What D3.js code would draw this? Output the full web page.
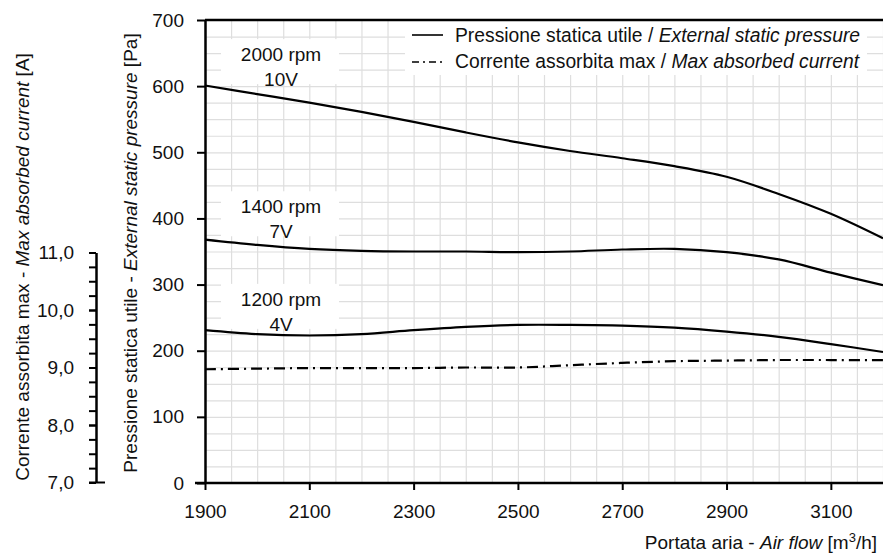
<!DOCTYPE html>
<html><head><meta charset="utf-8">
<script src="https://cdn.jsdelivr.net/npm/d3@7"></script>
<style>
body{margin:0;background:#fff;}
text{font-family:"Liberation Sans",Arial,sans-serif;fill:#111;}
</style></head>
<body><svg id="c" width="883" height="553"></svg>
<script>
const airflow = [1900,2000,2100,2200,2300,2400,2500,2600,2700,2800,2900,3000,3100,3200];
const p2000 = [601,588,575,561,546,530,515,502,491,479,463,437,407,370];
const p1400 = [368,360,354,351,350,350,349,350,353,354,349,338,318,299];
const p1200 = [231,225,223,225,231,236,239,239,238,235,229,221,210,198];
const currentMax = [8.97,8.98,8.99,8.99,8.99,9.00,9.00,9.04,9.08,9.11,9.12,9.13,9.13,9.13];
const xTicks = [1900,2100,2300,2500,2700,2900,3100];
const pTicks = [0,100,200,300,400,500,600,700];
const cTicks = [7,8,9,10,11];
const curveLabels = [
  {rpm:"2000 rpm", v:"10V", x:2040, p:600},
  {rpm:"1400 rpm", v:"7V", x:2040, p:370},
  {rpm:"1200 rpm", v:"4V", x:2040, p:230}
];

const FS = 19;
const svg = d3.select("#c");
const x = d3.scaleLinear().domain([1900,3200]).range([205,883]);
const yP = d3.scaleLinear().domain([0,700]).range([483,20]);
const yC = d3.scaleLinear().domain([7,11]).range([482.5,252.5]);

// grid
const gridX = d3.range(1900,3201,50);
const gridY = d3.range(0,701,25);
svg.append("g").attr("transform","translate(0,483)")
  .call(d3.axisBottom(x).tickValues(gridX).tickSize(-463).tickFormat(""))
  .call(g=>{g.select(".domain").remove();g.selectAll("line").attr("stroke","#dedede").attr("stroke-width",1.2);});
svg.append("g").attr("transform","translate(205,0)")
  .call(d3.axisLeft(yP).tickValues(gridY).tickSize(-678).tickFormat(""))
  .call(g=>{g.select(".domain").remove();g.selectAll("line").attr("stroke","#dedede").attr("stroke-width",1.2);});

// label boxes
curveLabels.forEach(l=>{
  const cx = x(l.x), by = yP(l.p) - 25;
  svg.append("rect").attr("x",cx-57).attr("y",by-22).attr("width",118).attr("height",45).attr("fill","#fff");
});
// legend box
svg.append("rect").attr("x",405).attr("y",21).attr("width",462).attr("height",54).attr("fill","#fff");

// curves
const curve = d3.curveCatmullRom.alpha(0.5);
const line = d3.line().x((d,i)=>x(airflow[i])).curve(curve);
[p2000,p1400,p1200].forEach(s=>{
  svg.append("path").attr("d",line.y(d=>yP(d))(s)).attr("fill","none").attr("stroke","#000").attr("stroke-width",2.2);
});
svg.append("path").attr("d",d3.line().x((d,i)=>x(airflow[i])).y(d=>yC(d)).curve(curve)(currentMax))
  .attr("fill","none").attr("stroke","#000").attr("stroke-width",2.2).attr("stroke-dasharray","11,5,2,5");

// labels text
curveLabels.forEach(l=>{
  const cx = x(l.x)+3, by = yP(l.p) - 25;
  svg.append("text").attr("x",cx).attr("y",by).attr("text-anchor","middle").attr("font-size",FS).text(l.rpm);
  svg.append("text").attr("x",cx).attr("y",by+25).attr("text-anchor","middle").attr("font-size",FS).text(l.v);
});

// axes
const ax = svg.append("g").attr("transform","translate(0,483)")
  .call(d3.axisBottom(x).tickValues(xTicks).tickSize(7).tickSizeOuter(0).tickPadding(15).tickFormat(d3.format("d")));
ax.select(".domain").attr("stroke","#000").attr("stroke-width",2.5).attr("d","M195,0H883");
ax.selectAll("line").attr("stroke","#000").attr("stroke-width",2);
ax.selectAll("text").attr("font-size",FS).attr("font-family",null).attr("fill","#111");

const ap = svg.append("g").attr("transform","translate(205,0)")
  .call(d3.axisLeft(yP).tickValues(pTicks).tickSize(8).tickSizeOuter(0).tickPadding(13).tickFormat(d3.format("d")));
ap.select(".domain").attr("stroke","#000").attr("stroke-width",2.5);
ap.selectAll("line").attr("stroke","#000").attr("stroke-width",2);
ap.selectAll("text").attr("font-size",FS).attr("font-family",null).attr("fill","#111");

// top border
svg.append("line").attr("x1",x(1900)).attr("x2",x(3200)).attr("y1",yP(700)).attr("y2",yP(700)).attr("stroke","#000").attr("stroke-width",2.5);

// current axis
const cMinor = d3.range(7,11.001,0.25);
const acm = svg.append("g").attr("transform","translate(96,0)")
  .call(d3.axisLeft(yC).tickValues(cMinor).tickSize(7).tickSizeOuter(0).tickFormat(""));
acm.select(".domain").attr("stroke","#000").attr("stroke-width",2.5);
acm.selectAll("line").attr("stroke","#000").attr("stroke-width",2);
const ac = svg.append("g").attr("transform","translate(96,0)")
  .call(d3.axisLeft(yC).tickValues(cTicks).tickSize(7).tickSizeOuter(0).tickPadding(15).tickFormat(d=>d3.format(".1f")(d).replace(".",",")));
ac.select(".domain").remove();
ac.selectAll("line").attr("stroke","#000").attr("stroke-width",2);
ac.selectAll("text").attr("font-size",FS).attr("font-family",null).attr("fill","#111");
svg.append("line").attr("x1",89).attr("x2",105).attr("y1",yC(7)).attr("y2",yC(7)).attr("stroke","#000").attr("stroke-width",2);

// axis titles
function mixed(t, parts){parts.forEach(p=>t.append("tspan").attr("font-style",p[1]?"italic":null).text(p[0]));}
const tP = svg.append("text").attr("transform","translate(137,253) rotate(-90)").attr("text-anchor","middle").attr("font-size",FS);
mixed(tP,[["Pressione statica utile - ",0],["External static pressure",1],[" [Pa]",0]]);
const tC = svg.append("text").attr("transform","translate(29,267) rotate(-90)").attr("text-anchor","middle").attr("font-size",FS);
mixed(tC,[["Corrente assorbita max - ",0],["Max absorbed current",1],[" [A]",0]]);
const tX = svg.append("text").attr("x",877).attr("y",549).attr("text-anchor","end").attr("font-size",FS);
tX.append("tspan").text("Portata aria - ");
tX.append("tspan").attr("font-style","italic").text("Air flow");
tX.append("tspan").text(" [m");
tX.append("tspan").attr("font-size",13).attr("dy",-7).text("3");
tX.append("tspan").attr("dy",7).text("/h]");

// legend
svg.append("line").attr("x1",412).attr("x2",443).attr("y1",35).attr("y2",35).attr("stroke","#000").attr("stroke-width",1.6);
svg.append("line").attr("x1",412).attr("x2",443).attr("y1",62).attr("y2",62).attr("stroke","#000").attr("stroke-width",1.6).attr("stroke-dasharray","7,4,2,4");
const l1 = svg.append("text").attr("x",455).attr("y",42).attr("font-size",19.3);
mixed(l1,[["Pressione statica utile / ",0],["External static pressure",1]]);
const l2 = svg.append("text").attr("x",455).attr("y",68).attr("font-size",19.3);
mixed(l2,[["Corrente assorbita max / ",0],["Max absorbed current",1]]);
</script></body></html>
